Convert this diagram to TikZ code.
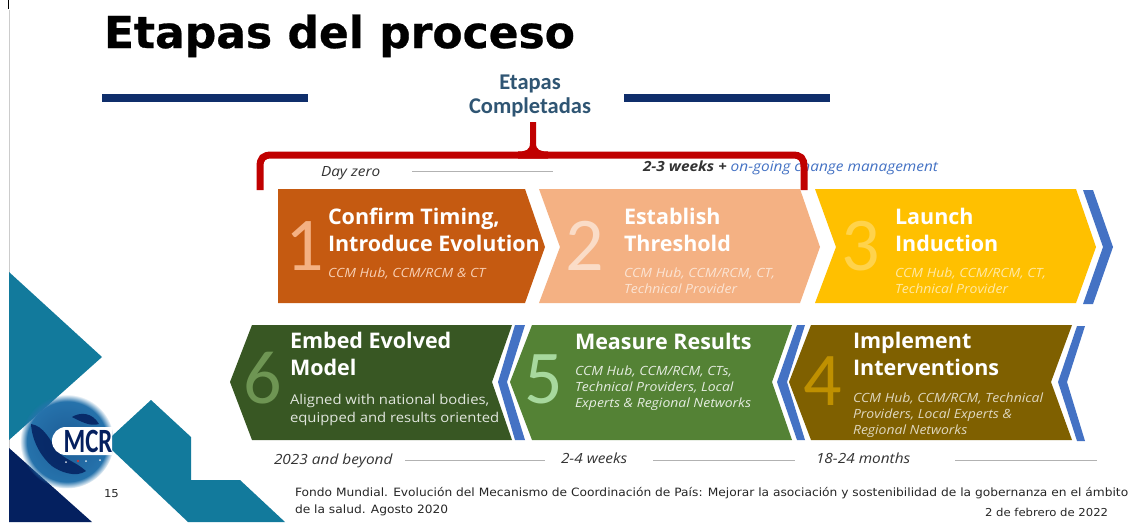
\documentclass[tikz,border=0pt]{standalone}
\usepackage{fontspec}
\usetikzlibrary{fadings}
\setmainfont{Open Sans}
\newfontfamily\vfont[FakeStretch=1.07]{DejaVu Sans}
\newfontfamily\tfont[FakeBold=0.6]{DejaVu Sans}
\newfontfamily\cfont{Carlito}
\newfontfamily\wfont[FakeStretch=1.1]{Open Sans}
\definecolor{navybar}{HTML}{0F2E6B}
\definecolor{teal}{HTML}{127A9C}
\definecolor{navytri}{HTML}{04205F}
\definecolor{redb}{HTML}{C00000}
\definecolor{c1}{HTML}{C55A11}
\definecolor{c2}{HTML}{F4B183}
\definecolor{c3}{HTML}{FFC000}
\definecolor{c4}{HTML}{7F6000}
\definecolor{c5}{HTML}{548235}
\definecolor{c6}{HTML}{385723}
\definecolor{bluec}{HTML}{4472C4}
\definecolor{donec}{HTML}{2F5573}
\definecolor{g1}{HTML}{1D5C96}
\definecolor{g2}{HTML}{2673AC}
\definecolor{g3}{HTML}{2F86BE}
\definecolor{g4}{HTML}{6FAFD3}
\pgfdeclareradialshading{globe}{\pgfpoint{0bp}{0bp}}{color(0bp)=(g1); color(22bp)=(g2); color(38bp)=(g3); color(50bp)=(g4)}
\tikzset{
 x=1pt,y=-1pt,
 txt/.style={anchor=base west,inner sep=0pt,outer sep=0pt,align=left},
 headt/.style={txt,text=white,font=\bfseries\fontsize{21.5}{27}\selectfont},
 subt/.style={txt,font=\wfont\itshape\fontsize{12.7}{15.7}\selectfont},
 numt/.style={anchor=base,inner sep=0pt,font=\cfont\fontsize{76}{76}\selectfont},
 timet/.style={txt,text=black!80,font=\wfont\itshape\fontsize{14}{16}\selectfont},
 tline/.style={draw=black!30,line width=0.7pt},
 foot/.style={txt,text=black!85,font=\vfont\fontsize{11.44}{17}\selectfont},
 small/.style={txt,text=black!85,font=\vfont\fontsize{10.9}{13}\selectfont},
}
\begin{document}
\begin{tikzpicture}
\useasboundingbox (0,0) rectangle (1134,522);
\fill[white] (0,0) rectangle (1134,522);
% page edge
\draw[black,line width=1pt] (8,0) -- (8,9);
\draw[black!20,line width=0.8pt] (9,10) -- (9,522);
% decoration
\fill[teal] (9,272) -- (102,357) -- (9,440) -- cycle;
\fill[navytri] (9,448) -- (92,522) -- (9,522) -- cycle;
\fill[teal] (151,400) -- (191,437) -- (191,480) -- (240,480) -- (285,522) -- (188,522) -- (112,450) -- (112,436) -- cycle;
% logo
\shade[shading=globe,path fading=circle with fuzzy edge 15 percent] (67,441.5) circle (47);
\fill[navytri,opacity=0.85] (31,424) .. controls (44,426) and (50,440) .. (58,452) .. controls (66,460) and (76,462) .. (86,471) .. controls (76,478) and (60,472) .. (52,466) .. controls (40,456) and (32,440) .. (31,424) -- cycle;
\fill[navytri,opacity=0.85] (72,417) .. controls (80,412) and (92,412) .. (99,424) .. controls (90,427) and (80,421) .. (72,417) -- cycle;
\fill[white,opacity=0.85] (66,462) circle (1);
\fill[redb!80] (78,461) circle (1.4);
\fill[white,opacity=0.85] (86,461) circle (1);
\fill[white,opacity=0.85] (100,460) circle (1);
\begin{scope}
\clip (40,420) rectangle (112,460);
\fill[white,rounded corners=13.9pt] (52,427) rectangle (130,455);
\end{scope}
\node[inner sep=0pt,xscale=0.73,text=navytri,font=\cfont\bfseries\fontsize{34}{34}\selectfont] (logo) at (88,441) {MCR};
% title
\node[txt,font=\tfont\bfseries\fontsize{44}{44}\selectfont] (title) at (104,48) {Etapas del proceso};
\fill[navybar] (102,94) rectangle (308,102);
\fill[navybar] (624,94) rectangle (830,102);
\node[inner sep=0pt,align=center,text=donec,font=\cfont\bfseries\fontsize{22.5}{23.5}\selectfont] (done) at (530,96) {Etapas\\Completadas};
% timeline top
\node[timet] (t0) at (321,176) {Day zero};
\draw[tline] (412,171.5) -- (553,171.5);
\node[timet] (t1) at (643,171) {\textbf{2-3 weeks +} \textcolor{bluec}{on-going change management}};
% top chevrons
\fill[c1] (278,189) -- (525,189) -- (545,247) -- (525,303) -- (278,303) -- cycle;
\fill[c2] (539,189) -- (800,189) -- (820,247) -- (800,303) -- (539,303) -- (560,247) -- cycle;
\fill[c3] (815,189) -- (1076,189) -- (1096,247) -- (1076,303) -- (815,303) -- (836,247) -- cycle;
\fill[bluec] (1083,190) -- (1093,190) -- (1113,247) -- (1093,304) -- (1083,304) -- (1103,247) -- cycle;
% bracket
\draw[redb,line width=7pt] (260,190) -- (260,167) .. controls (260,158) and (263,155) .. (272,155) -- (792,155) .. controls (801,155) and (804,158) .. (804,167) -- (804,190);
\fill[redb] (530,122) -- (536,122) -- (536,143) .. controls (536,150) and (540,151.5) .. (548,151.5) -- (548,158.5) -- (518,158.5) -- (518,151.5) .. controls (526,151.5) and (530,150) .. (530,143) -- cycle;
% bottom chevrons
\fill[c6] (230,382) -- (252,325) -- (512,325) -- (492,382) -- (512,440) -- (252,440) -- cycle;
\fill[bluec] (515,325) -- (525,325) -- (507,382) -- (525,440) -- (515,440) -- (498,382) -- cycle;
\fill[c5] (510,382) -- (532,325) -- (792,325) -- (772,382) -- (792,440) -- (532,440) -- cycle;
\fill[bluec] (797,325) -- (805,325) -- (787,382) -- (805,440) -- (797,440) -- (777,382) -- cycle;
\fill[c4] (789,382) -- (811,325) -- (1072,325) -- (1051,382) -- (1072,440) -- (811,440) -- cycle;
\fill[bluec] (1077,326) -- (1085,326) -- (1067,382) -- (1085,441) -- (1077,441) -- (1058,382) -- cycle;
% numerals
\node[numt,text=c2] (n1) at (305,270) {1};
\node[numt,text=c2!45!white] (n2) at (585,270) {2};
\node[numt,text=c3!70!white] (n3) at (861,270) {3};
\node[numt,text=c5!85!white] (n6) at (263,403) {6};
\node[numt,text=green!30!c5!45!white] (n5) at (544,403) {5};
\node[numt,text=c3!75!black] (n4) at (823,405) {4};
% headings
\node[headt] (h1) at (328,251) {Confirm Timing,\\Introduce Evolution};
\node[subt,text=c2!60!white] (s1) at (328,277) {CCM Hub, CCM/RCM \& CT};
\node[headt] (h2) at (624,251) {Establish\\Threshold};
\node[subt,text=c2!35!white] (s2) at (624,293) {CCM Hub, CCM/RCM, CT,\\Technical Provider};
\node[headt] (h3) at (895,251) {Launch\\Induction};
\node[subt,text=c3!35!white] (s3) at (895,293) {CCM Hub, CCM/RCM, CT,\\Technical Provider};
\node[headt] (h6) at (290,375) {Embed Evolved\\Model};
\node[txt,text=white!85!c6,font=\wfont\fontsize{13.5}{18}\selectfont] (s6) at (290,422) {Aligned with national bodies,\\equipped and results oriented};
\node[headt] (h5) at (575,349) {Measure Results};
\node[subt,text=white!85!c5] (s5) at (575,407) {CCM Hub, CCM/RCM, CTs,\\Technical Providers, Local\\Experts \& Regional Networks};
\node[headt] (h4) at (853,375) {Implement\\Interventions};
\node[subt,text=white!75!c4] (s4) at (853,434) {CCM Hub, CCM/RCM, Technical\\Providers, Local Experts \&\\Regional Networks};
% timeline bottom
\node[timet] (t6) at (274,464) {2023 and beyond};
\draw[tline] (405,460) -- (545,460);
\node[timet] (t5) at (561,463) {2-4 weeks};
\draw[tline] (653,460) -- (795,460);
\node[timet] (t4) at (816,463) {18-24 months};
\draw[tline] (955,460) -- (1097,460);
% footer
\node[small] (pg) at (104,497) {15};
\node[foot] (fn) at (295,513) {Fondo Mundial. Evolución del Mecanismo de Coordinación de País: Mejorar la asociación y sostenibilidad de la gobernanza en el ámbito\\de la salud. Agosto 2020};
\node[small] (dt) at (985,516) {2 de febrero de 2022};
\end{tikzpicture}
\end{document}
